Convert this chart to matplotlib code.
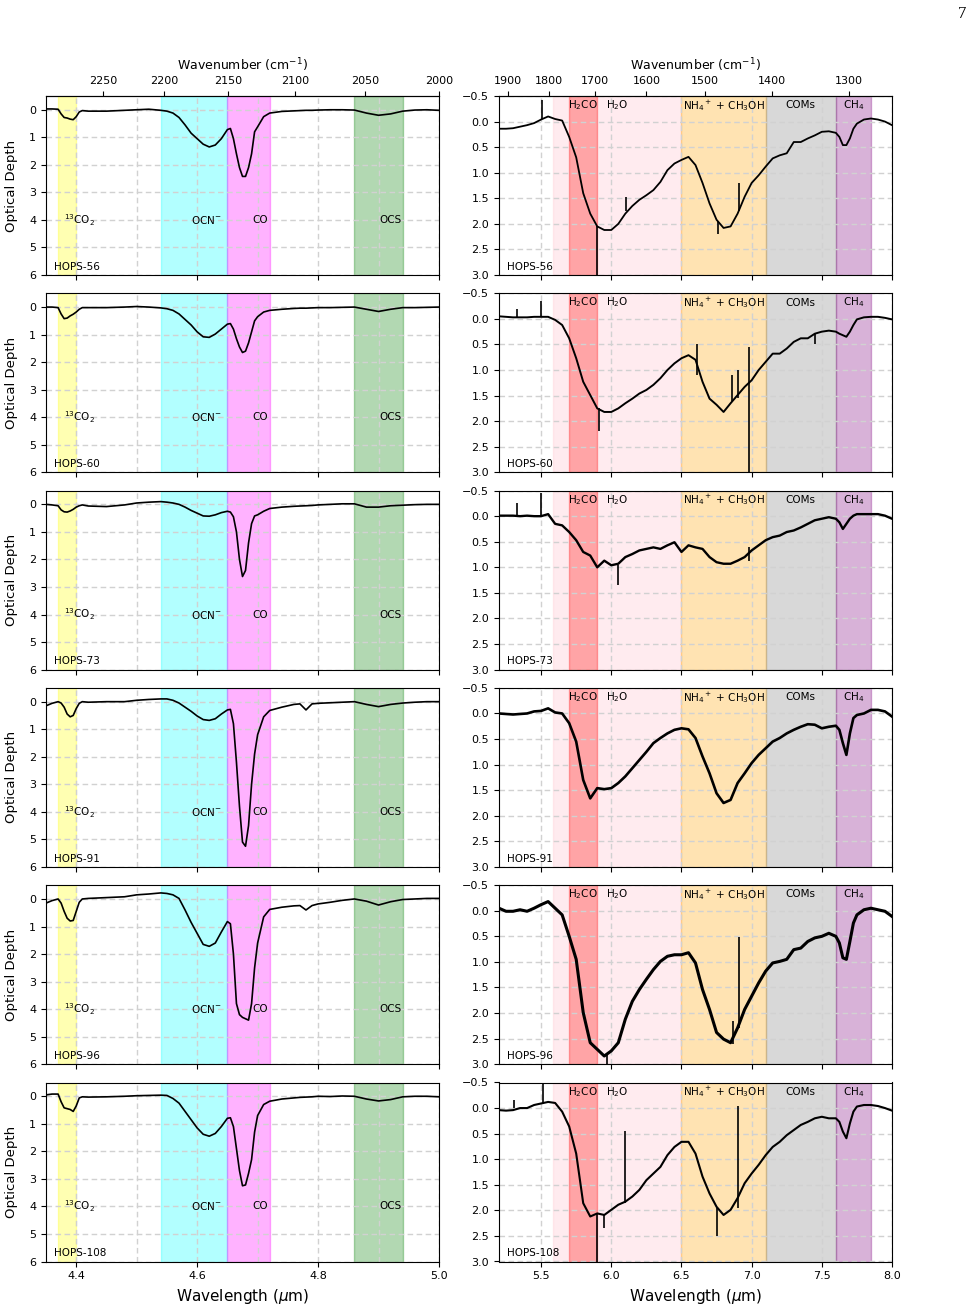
import numpy as np
import matplotlib
matplotlib.use('Agg')
import matplotlib.pyplot as plt

sources = ['HOPS-56', 'HOPS-60', 'HOPS-73', 'HOPS-91', 'HOPS-96', 'HOPS-108']

# ---- 4.35 - 5.0 micron window ----
wl_short = [4.35, 4.36, 4.37, 4.375, 4.38, 4.385, 4.39, 4.395, 4.40, 4.405, 4.41, 4.42,
            4.45, 4.48, 4.50, 4.52, 4.54, 4.55, 4.56, 4.57, 4.58, 4.59, 4.60, 4.61,
            4.62, 4.63, 4.64, 4.65, 4.655, 4.66, 4.665, 4.67, 4.675, 4.68, 4.685, 4.69,
            4.695, 4.70, 4.71, 4.72, 4.74, 4.76, 4.77, 4.78, 4.79, 4.80, 4.82, 4.84,
            4.86, 4.88, 4.90, 4.92, 4.94, 4.96, 4.98, 5.00]

tau56_short = [-0.03, -0.03, -0.02, 0.15, 0.28, 0.30, 0.34, 0.36, 0.25, 0.08, 0.03, 0.05,
               0.05, 0.02, 0.00, -0.02, 0.02, 0.05, 0.12, 0.28, 0.55, 0.85, 1.05, 1.25,
               1.35, 1.28, 1.05, 0.72, 0.68, 1.05, 1.6, 2.1, 2.42, 2.42, 2.1, 1.6,
               0.8, 0.62, 0.25, 0.12, 0.06, 0.04, 0.03, 0.02, 0.02, 0.01, 0.0, 0.0,
               0.01, 0.12, 0.2, 0.15, 0.05, 0.01, 0.0, 0.02]
tau60_short = [0.0, 0.0, 0.02, 0.25, 0.42, 0.40, 0.32, 0.26, 0.18, 0.08, 0.02, 0.02,
               0.02, 0.0, -0.02, 0.0, 0.03, 0.06, 0.12, 0.25, 0.45, 0.65, 0.9, 1.08,
               1.1, 0.98, 0.8, 0.62, 0.6, 0.8, 1.15, 1.45, 1.65, 1.6, 1.3, 0.9,
               0.5, 0.35, 0.18, 0.12, 0.08, 0.05, 0.04, 0.04, 0.03, 0.02, 0.02, 0.01,
               0.0, 0.08, 0.16, 0.08, 0.02, 0.02, 0.01, 0.0]
tau73_short = [0.0, 0.02, 0.05, 0.2, 0.27, 0.28, 0.24, 0.18, 0.1, 0.05, 0.02, 0.06,
               0.08, 0.02, -0.05, -0.08, -0.1, -0.08, -0.05, 0.0, 0.1, 0.22, 0.32, 0.42,
               0.43, 0.38, 0.3, 0.25, 0.28, 0.45, 1.0, 2.0, 2.62, 2.4, 1.4, 0.7,
               0.42, 0.38, 0.25, 0.15, 0.1, 0.07, 0.06, 0.05, 0.04, 0.02, 0.0, -0.02,
               -0.02, 0.1, 0.1, 0.05, 0.03, 0.01, 0.0, 0.0]
tau91_short = [0.15, 0.06, 0.0, 0.05, 0.2, 0.45, 0.55, 0.5, 0.25, 0.06, 0.0, 0.02,
               0.0, 0.0, -0.05, -0.08, -0.1, -0.1, -0.05, 0.05, 0.2, 0.35, 0.52, 0.65,
               0.68, 0.62, 0.45, 0.3, 0.28, 0.8, 2.2, 3.8, 5.1, 5.25, 4.5, 3.0,
               1.9, 1.2, 0.55, 0.32, 0.2, 0.1, 0.08, 0.3, 0.08, 0.06, 0.04, 0.02,
               0.0, 0.1, 0.18, 0.1, 0.05, 0.02, 0.0, 0.0]
tau96_short = [0.15, 0.06, 0.0, 0.15, 0.45, 0.7, 0.8, 0.78, 0.45, 0.12, 0.0, -0.02,
               -0.05, -0.08, -0.15, -0.18, -0.22, -0.2, -0.15, -0.02, 0.4, 0.85, 1.25, 1.65,
               1.72, 1.6, 1.2, 0.82, 0.9, 2.0, 3.8, 4.2, 4.3, 4.35, 4.4, 3.8,
               2.5, 1.6, 0.65, 0.38, 0.3, 0.25, 0.24, 0.4, 0.24, 0.18, 0.12, 0.05,
               0.0, 0.08, 0.22, 0.1, 0.02, 0.0, -0.02, -0.02]
tau108_short = [-0.05, -0.08, -0.08, 0.2, 0.42, 0.45, 0.48, 0.55, 0.35, 0.06, 0.02, 0.03,
                0.02, 0.0, -0.02, -0.03, -0.04, -0.03, 0.08, 0.25, 0.55, 0.85, 1.15, 1.38,
                1.45, 1.35, 1.1, 0.8, 0.78, 1.1, 1.9, 2.7, 3.25, 3.22, 2.8, 2.3,
                1.3, 0.7, 0.3, 0.18, 0.1, 0.06, 0.04, 0.03, 0.02, 0.0, 0.01, -0.01,
                0.0, 0.1, 0.17, 0.12, 0.02, 0.0, 0.0, 0.02]

# ---- 5.2 - 8.0 micron window ----
wl_long = [5.20, 5.25, 5.30, 5.35, 5.40, 5.45, 5.50, 5.55, 5.60, 5.65, 5.70, 5.75,
           5.80, 5.85, 5.90, 5.95, 6.00, 6.05, 6.10, 6.15, 6.20, 6.25, 6.30, 6.35,
           6.40, 6.45, 6.50, 6.55, 6.60, 6.65, 6.70, 6.75, 6.80, 6.85, 6.90, 6.95,
           7.00, 7.05, 7.10, 7.15, 7.20, 7.25, 7.30, 7.35, 7.40, 7.45, 7.50, 7.55,
           7.60, 7.625, 7.65, 7.675, 7.70, 7.725, 7.75, 7.80, 7.85, 7.90, 7.95, 8.00]

tau56_long = [0.14, 0.14, 0.13, 0.10, 0.07, 0.03, -0.04, -0.10, -0.05, -0.02, 0.30, 0.70,
              1.40, 1.80, 2.05, 2.12, 2.12, 2.00, 1.80, 1.65, 1.53, 1.44, 1.34, 1.18,
              0.95, 0.82, 0.75, 0.69, 0.85, 1.20, 1.60, 1.92, 2.08, 2.05, 1.80, 1.47,
              1.20, 1.05, 0.88, 0.72, 0.66, 0.62, 0.40, 0.40, 0.33, 0.27, 0.20, 0.19,
              0.22, 0.30, 0.46, 0.46, 0.33, 0.14, 0.04, -0.04, -0.06, -0.04, 0.0, 0.07]
tau60_long = [-0.05, -0.04, -0.03, -0.03, -0.03, -0.04, -0.04, -0.04, 0.02, 0.12, 0.38, 0.77,
              1.23, 1.49, 1.75, 1.82, 1.82, 1.75, 1.65, 1.56, 1.46, 1.39, 1.29, 1.16,
              1.00, 0.87, 0.77, 0.71, 0.80, 1.23, 1.56, 1.68, 1.82, 1.65, 1.49, 1.33,
              1.20, 1.00, 0.84, 0.68, 0.68, 0.58, 0.45, 0.38, 0.38, 0.29, 0.25, 0.23,
              0.25, 0.29, 0.32, 0.35, 0.25, 0.12, 0.01, -0.03, -0.04, -0.04, -0.02, 0.01]
tau73_long = [-0.01, -0.01, -0.01, 0.0, -0.01, 0.0, 0.0, -0.04, 0.15, 0.18, 0.31, 0.47,
              0.70, 0.77, 1.00, 0.87, 0.96, 0.93, 0.80, 0.74, 0.67, 0.64, 0.61, 0.64,
              0.57, 0.51, 0.70, 0.57, 0.61, 0.64, 0.80, 0.90, 0.93, 0.93, 0.87, 0.80,
              0.67, 0.57, 0.47, 0.41, 0.38, 0.31, 0.28, 0.22, 0.15, 0.08, 0.05, 0.02,
              0.05, 0.12, 0.25, 0.15, 0.05, -0.01, -0.04, -0.04, -0.04, -0.04, -0.01, 0.05]
tau91_long = [0.0, 0.01, 0.02, 0.01, 0.0, -0.04, -0.05, -0.10, -0.02, 0.0, 0.19, 0.55,
              1.30, 1.66, 1.46, 1.48, 1.46, 1.36, 1.23, 1.07, 0.91, 0.75, 0.58, 0.48,
              0.39, 0.32, 0.29, 0.31, 0.48, 0.84, 1.17, 1.56, 1.75, 1.69, 1.36, 1.17,
              0.97, 0.81, 0.68, 0.55, 0.48, 0.39, 0.32, 0.26, 0.21, 0.22, 0.29, 0.26,
              0.24, 0.32, 0.58, 0.81, 0.39, 0.09, 0.03, 0.0, -0.07, -0.07, -0.04, 0.06]
tau96_long = [-0.05, 0.01, 0.01, -0.02, 0.01, -0.05, -0.12, -0.18, -0.05, 0.08, 0.50, 0.95,
              1.99, 2.58, 2.71, 2.84, 2.74, 2.58, 2.12, 1.77, 1.54, 1.34, 1.15, 0.99,
              0.89, 0.86, 0.86, 0.82, 1.02, 1.54, 1.93, 2.38, 2.51, 2.58, 2.29, 1.93,
              1.67, 1.41, 1.18, 1.02, 0.99, 0.95, 0.76, 0.73, 0.60, 0.53, 0.50, 0.44,
              0.50, 0.63, 0.92, 0.95, 0.60, 0.24, 0.08, -0.02, -0.05, -0.02, 0.01, 0.11]
tau108_long = [0.04, 0.05, 0.04, 0.0, 0.0, -0.06, -0.09, -0.12, -0.10, 0.07, 0.36, 0.89,
               1.86, 2.12, 2.06, 2.09, 1.99, 1.89, 1.83, 1.73, 1.60, 1.41, 1.28, 1.15,
               0.92, 0.76, 0.66, 0.66, 0.89, 1.34, 1.67, 1.93, 2.09, 1.99, 1.76, 1.47,
               1.28, 1.11, 0.92, 0.76, 0.66, 0.53, 0.43, 0.33, 0.27, 0.20, 0.17, 0.20,
               0.20, 0.27, 0.46, 0.59, 0.30, 0.07, -0.03, -0.06, -0.06, -0.04, 0.0, 0.05]

# single-channel spikes: (wavelength, from, to)
spikes56 = [(5.505, -0.05, -0.42), (5.90, 2.05, 3.1), (6.105, 1.75, 1.48),
            (6.76, 1.95, 2.2), (6.907, 1.75, 1.2)]
spikes60 = [(5.33, -0.03, -0.2), (5.50, -0.04, -0.35), (5.91, 1.75, 2.2),
            (6.61, 1.1, 0.5), (6.86, 1.6, 1.1), (6.90, 1.55, 1.0),
            (6.983, 0.55, 3.1), (7.45, 0.28, 0.5)]
spikes73 = [(5.33, -0.01, -0.25), (5.50, 0.0, -0.45), (6.05, 0.95, 1.35),
            (6.98, 0.88, 0.6)]
spikes91 = []
spikes96 = [(6.87, 2.6, 2.15), (6.91, 2.3, 0.52), (5.97, 2.8, 3.0)]
spikes108 = [(5.31, 0.0, -0.15), (5.51, -0.08, -0.5), (5.90, 2.06, 3.1),
             (5.95, 2.09, 2.35), (6.10, 1.85, 0.45), (6.75, 1.95, 2.5),
             (6.90, 1.95, -0.05)]

tau_short = [tau56_short, tau60_short, tau73_short, tau91_short, tau96_short, tau108_short]
tau_long = [tau56_long, tau60_long, tau73_long, tau91_long, tau96_long, tau108_long]
spikes = [spikes56, spikes60, spikes73, spikes91, spikes96, spikes108]
noise_lw = [1.3, 1.4, 1.7, 1.9, 2.2, 1.5]

bands_short = [(4.37, 4.40, 'yellow'), (4.54, 4.65, 'cyan'),
               (4.65, 4.72, 'magenta'), (4.86, 4.94, 'green')]
labels_short = [(4.38, '$^{13}$CO$_2$', 'left'), (4.615, 'OCN$^{-}$', 'center'),
                (4.705, 'CO', 'center'), (4.92, 'OCS', 'center')]
bands_long = [(5.585, 6.5, 'pink'), (5.7, 5.9, 'red'), (6.5, 7.1, 'orange'),
              (7.1, 7.6, 'grey'), (7.6, 7.85, 'purple')]
labels_long = [(5.80, 'H$_2$CO'), (6.04, 'H$_2$O'), (6.80, 'NH$_4$$^+$ + CH$_3$OH'),
               (7.345, 'COMs'), (7.727, 'CH$_4$')]


def inv(x):
    x = np.array(x, dtype=float)
    near_zero = np.isclose(x, 0)
    x[near_zero] = np.inf
    x[~near_zero] = 1e4 / x[~near_zero]
    return x


W, H = 971, 1316
fig = plt.figure(figsize=(W / 100, H / 100), dpi=100)
grid_kw = dict(ls=(0, (4, 2.5)), color='0.82', lw=1.0)

for i, name in enumerate(sources):
    top = 96 + i * 197.3
    y0 = 1 - (top + 179) / H
    ax1 = fig.add_axes([46 / W, y0, 393 / W, 179 / H])
    ax2 = fig.add_axes([499 / W, y0, 393 / W, 179 / H])

    # short wavelength panel
    for lo, hi, c in bands_short:
        ax1.axvspan(lo, hi, color=c, alpha=0.3)
    ax1.plot(wl_short, tau_short[i], color='k', lw=1.2)
    for x, txt, ha in labels_short:
        ax1.text(x, 4.0, txt, ha=ha, va='center', fontsize=7.5)
    ax1.text(4.363, 5.7, name, ha='left', va='center', fontsize=7.5)
    ax1.set_xlim(4.35, 5.0)
    ax1.set_ylim(6, -0.5)
    ax1.set_yticks(range(7))
    ax1.set_xticks([4.4, 4.6, 4.8, 5.0])
    ax1.set_xticks(np.arange(4.4, 4.95, 0.1), minor=True)
    ax1.tick_params(axis='x', which='minor', length=0)
    ax1.grid(True, which='both', **grid_kw)
    ax1.set_ylabel('Optical Depth', fontsize=9.5)
    ax1.yaxis.set_label_coords(-0.07, 0.5)

    # long wavelength panel
    for lo, hi, c in bands_long:
        ax2.axvspan(lo, hi, color=c, alpha=0.3)
    ax2.plot(wl_long, tau_long[i], color='k', lw=noise_lw[i])
    for x, lo, hi in spikes[i]:
        ax2.vlines(x, lo, hi, color='k', lw=1.2)
    for x, txt in labels_long:
        ax2.text(x, -0.32, txt, ha='center', va='center', fontsize=7.5)
    ax2.text(5.26, 2.84, name, ha='left', va='center', fontsize=7.5)
    ax2.set_xlim(5.2, 8.0)
    ax2.set_ylim(3.0, -0.5)
    ax2.set_yticks(np.arange(-0.5, 3.01, 0.5))
    ax2.set_xticks(np.arange(5.5, 8.01, 0.5))
    ax2.grid(True, **grid_kw)

    for ax in (ax1, ax2):
        ax.tick_params(labelsize=8)
        if i < len(sources) - 1:
            ax.tick_params(labelbottom=False)
        else:
            ax.set_xlabel('Wavelength ($\\mu$m)', fontsize=11)

    if i == 0:
        sec1 = ax1.secondary_xaxis('top', functions=(inv, inv))
        sec1.set_xticks([2250, 2200, 2150, 2100, 2050, 2000])
        sec2 = ax2.secondary_xaxis('top', functions=(inv, inv))
        sec2.set_xticks([1900, 1800, 1700, 1600, 1500, 1400, 1300])
        for sec in (sec1, sec2):
            sec.tick_params(labelsize=8)
            sec.set_xlabel('Wavenumber (cm$^{-1}$)', fontsize=9)

fig.text(0.995, 0.989, '7', ha='right', va='center', fontsize=12,
         family=['Liberation Serif', 'DejaVu Serif'])

fig.savefig('out.png', dpi=100)
